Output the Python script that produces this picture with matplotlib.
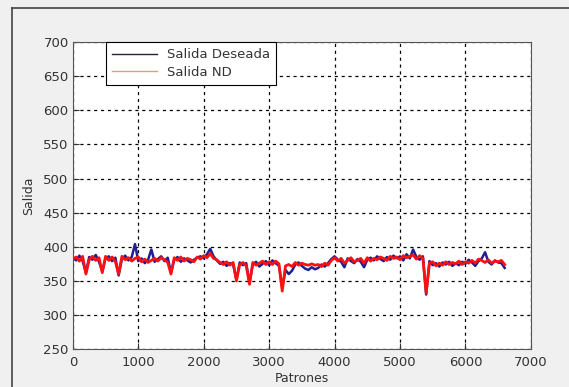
#!/usr/bin/env python3
"""Salida deseada vs salida ND, MATLAB-like figure."""

import numpy as np
import matplotlib.pyplot as plt
from matplotlib.lines import Line2D

figbg    = '#f0f0f0'
deseacol = '#1f1f8f'
ndcol    = '#ff1010'
ndleg    = '#d2a47c'
textcol  = '#333333'

step = 50
salida_deseada = [
    384, 380, 387, 379, 362, 385, 381, 388, 378, 364,
    383, 386, 379, 384, 358, 382, 387, 380, 385, 404,
    379, 383, 376, 381, 396, 378, 382, 386, 379, 384,
    362, 381, 385, 378, 383, 380, 377, 381, 384, 386,
    383, 389, 397, 386, 380, 375, 378, 372, 376, 374,
    352, 377, 373, 376, 347, 374, 378, 371, 375, 379,
    373, 380, 376, 372, 340, 366, 360, 365, 374, 377,
    372, 368, 366, 370, 367, 369, 374, 371, 376, 382,
    386, 381, 378, 370, 383, 379, 376, 382, 378, 370,
    381, 384, 380, 386, 382, 379, 385, 381, 387, 383,
    386, 380, 389, 383, 396, 385, 381, 386, 330, 379,
    373, 376, 371, 377, 374, 378, 372, 376, 373, 378,
    375, 381, 377, 372, 379, 383, 392, 378, 374, 380,
    377, 376, 369,
]
salida_nd = [
    382, 385, 379, 386, 360, 381, 386, 380, 384, 362,
    386, 380, 385, 378, 360, 386, 381, 384, 379, 383,
    385, 378, 382, 377, 380, 383, 379, 384, 381, 377,
    360, 384, 380, 385, 379, 383, 381, 378, 385, 382,
    387, 384, 390, 383, 381, 377, 374, 378, 373, 377,
    350, 374, 377, 372, 345, 377, 373, 376, 379, 374,
    378, 374, 379, 375, 335, 372, 374, 371, 377, 373,
    376, 374, 373, 375, 373, 374, 371, 376, 373, 380,
    384, 379, 383, 376, 380, 384, 378, 380, 383, 376,
    384, 379, 383, 381, 385, 383, 380, 386, 383, 385,
    381, 387, 384, 386, 388, 382, 387, 383, 332, 376,
    378, 372, 376, 373, 378, 374, 377, 375, 379, 374,
    378, 376, 380, 376, 382, 380, 377, 381, 376, 379,
    378, 380, 374,
]
patrones = np.arange(len(salida_deseada)) * step

fig = plt.figure(figsize=(5.69, 3.87), dpi=100)
fig.patch.set_facecolor(figbg)
ax = fig.add_axes([0.128, 0.098, 0.805, 0.793])

ax.plot(patrones, salida_deseada, color=deseacol, lw=1.8, label='Salida Deseada')
ax.plot(patrones, salida_nd, color=ndcol, lw=2.0, label='Salida ND')

ax.set_xlim(0, 7000)
ax.set_ylim(250, 700)
ax.set_xticks(np.arange(0, 7001, 1000))
ax.set_yticks(np.arange(250, 701, 50))
ax.grid(True, color='black', lw=0.9, linestyle=(0, (2.5, 3)))
ax.tick_params(direction='in', length=4, colors=textcol, labelsize=9.5, pad=3)
ax.tick_params(axis='x', pad=5)
for s in ax.spines.values():
    s.set_color('#555555')
    s.set_linewidth(0.8)

ax.set_xlabel('Patrones', color=textcol, fontsize=9, labelpad=2)
ax.set_ylabel('Salida', color=textcol, fontsize=9, labelpad=6)

leg = ax.legend(loc='upper left', bbox_to_anchor=(0.072, 1.0), borderaxespad=0,
                fontsize=9.5, handlelength=3.4, fancybox=False, framealpha=1,
                edgecolor='black', labelspacing=0.35, borderpad=0.45)
leg.get_frame().set_linewidth(0.8)
leg.legend_handles[0].set_color('#202040')
leg.legend_handles[0].set_linewidth(1.0)
leg.legend_handles[1].set_color(ndleg)
leg.legend_handles[1].set_linewidth(1.0)
for t in leg.get_texts():
    t.set_color(textcol)

# window frame edges
fig.add_artist(Line2D([12 / 569, 12 / 569], [0, 1 - 8 / 387], color='#444444', lw=1.2))
fig.add_artist(Line2D([12 / 569, 1], [1 - 8 / 387, 1 - 8 / 387], color='#444444', lw=1.2))

plt.savefig('out.png', facecolor=figbg, dpi=100)
plt.close()
